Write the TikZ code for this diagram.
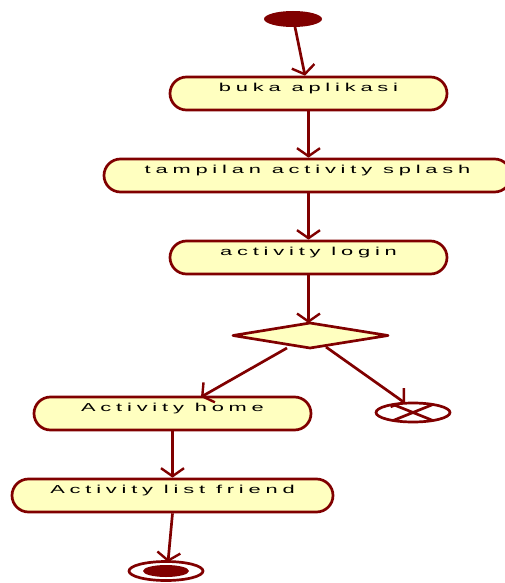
\documentclass[tikz,border=0pt]{standalone}
\usepackage{fontspec}
\setmainfont{Liberation Sans}[LetterSpace=22]
\usetikzlibrary{arrows.meta,shapes.geometric}
\definecolor{umlline}{RGB}{128,0,0}
\definecolor{umlfill}{RGB}{255,255,192}
% wide activity labels
\newcommand{\widelabel}[1]{\scalebox{1.9}[1]{#1}}
\tikzset{
  act/.style={draw=umlline, fill=umlfill, line width=2.7pt, rounded corners=16.5pt,
    minimum height=33pt, inner sep=0pt, text height=2pt, text depth=6.2pt,
    font=\fontsize{11.5}{13}\selectfont},
  flow/.style={draw=umlline, line width=2.7pt, -{Straight Barb[length=8pt,width=23pt,line width=2.4pt]}},
}
\begin{document}
\begin{tikzpicture}[x=1pt,y=-1pt]
\useasboundingbox (0,0) rectangle (505,583);
% initial node
\node[ellipse, fill=umlline, minimum width=58pt, minimum height=16pt, inner sep=0pt] (start) at (293,19) {};
% activities
\node[act, minimum width=277pt] (buka) at (308.5,93.5) {\widelabel{buka aplikasi}};
\node[act, minimum width=407pt] (splash) at (307.5,175.5) {\widelabel{tampilan activity splash}};
\node[act, minimum width=277pt] (login) at (308.5,257.5) {\widelabel{activity login}};
\node[act, minimum width=277pt] (home) at (172.5,413.5) {\widelabel{Activity home}};
\node[act, minimum width=321pt] (list) at (172.5,495.5) {\widelabel{Activity list friend}};
% decision
\draw[umlline, fill=umlfill, line width=2.7pt, line join=round]
  (233,335.5) -- (310,323) -- (388,335.5) -- (310,348) -- cycle;
\coordinate (dec) at (310,323);
\coordinate (decL) at (287,348);
\coordinate (decR) at (326,347);
% flow final
\coordinate (ff) at (413,412.5);
\begin{scope}
  \clip (ff) ellipse [x radius=38pt, y radius=10pt];
  \draw[umlline, line width=2.7pt] (382,400) -- (444,425) (382,425) -- (444,400);
\end{scope}
\draw[umlline, line width=2.7pt] (ff) ellipse [x radius=37pt, y radius=9.5pt];
\coordinate (fftop) at (405,403);
% activity final
\coordinate (endc) at (166,571);
\draw[umlline, line width=2.7pt] (endc) ellipse [x radius=37pt, y radius=9.5pt];
\fill[umlline] (endc) ellipse [x radius=23pt, y radius=6pt];
\coordinate (endtop) at (168,562);
% control flows
\draw[flow] (295,27) -- (buka.north -| 305,0);
\draw[flow] (buka.south) -- (splash.north -| buka.south);
\draw[flow] (splash.south -| buka.south) -- (login.north);
\draw[flow] (login.south) -- (login.south |- dec);
\draw[flow] (decL) -- (201,397);
\draw[flow] (decR) -- (fftop);
\draw[flow] (home.south) -- (list.north);
\draw[flow] (list.south) -- (endtop);
\end{tikzpicture}
\end{document}
